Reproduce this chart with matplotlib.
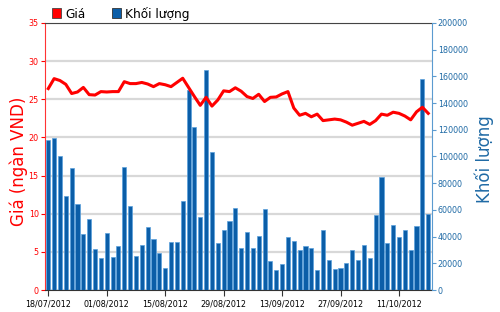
import numpy as np
import matplotlib
matplotlib.use('Agg')
import matplotlib.pyplot as plt
from matplotlib.patches import Patch

# gia dong cua (ngan VND), moi phien mot diem
price = [26.4, 27.7, 27.45, 26.95, 25.75, 25.95, 26.55, 25.6, 25.55, 26.0,
         25.95, 26.0, 26.0, 27.3, 27.05, 27.05, 27.2, 27.0, 26.65, 27.05,
         26.9, 26.65, 27.2, 27.75, 26.55, 25.35, 24.2, 25.25, 24.1, 24.9,
         26.1, 26.0, 26.5, 26.05, 25.35, 25.1, 25.65, 24.7, 25.25, 25.3,
         25.7, 26.0, 23.85, 22.9, 23.15, 22.7, 23.05, 22.2, 22.3, 22.4,
         22.3, 22.0, 21.6, 21.85, 22.1, 21.7, 22.2, 23.05, 22.9, 23.3,
         23.15, 22.8, 22.3, 23.35, 23.95, 23.15]

# khoi luong giao dich
volume = [112600, 113700, 100600, 70600, 91600, 64200, 41700, 53100, 30700, 24200,
          42700, 25000, 33200, 92300, 62600, 25700, 33700, 47400, 37900, 27400,
          16200, 36200, 36200, 66700, 149700, 121700, 54900, 164800, 103700, 35400,
          44900, 51400, 61100, 31400, 43400, 31300, 40300, 60300, 21700, 14700,
          19500, 39500, 36500, 30000, 33200, 31500, 14700, 45000, 22700, 15500,
          16200, 20000, 29700, 22500, 33700, 24000, 56200, 84700, 35200, 49000,
          39500, 45000, 30200, 48200, 158300, 57200]

tick_labels = ['18/07/2012', '01/08/2012', '15/08/2012', '29/08/2012',
               '13/09/2012', '27/09/2012', '11/10/2012']

RED = '#ff0000'
BLUE = '#0b5ea8'

x = np.arange(len(price))

fig = plt.figure(figsize=(5, 3.12), dpi=100)
ax = fig.add_axes([0.09, 0.0705, 0.773, 0.856])
ax2 = ax.twinx()   # khoi luong (truc phai)
ax3 = ax.twinx()   # duong gia ve tren cot

ax.set_xlim(-0.56, len(price) - 0.44)
ax.set_ylim(0, 35)
ax.set_yticks(range(0, 36, 5))
ax.yaxis.grid(True, color='#d8d8d8', linewidth=1.6)
ax.set_axisbelow(True)

ax2.bar(x, volume, width=0.7, color=BLUE, edgecolor='#5aa0dc', linewidth=0.5)
ax2.set_ylim(0, 200000)
ax2.set_yticks(range(0, 200001, 20000))

ax3.plot(x, price, color=RED, linewidth=2.2, solid_joinstyle='round')
ax3.set_ylim(0, 35)
ax3.axis('off')

ax.set_xticks(x[::10][:len(tick_labels)])
ax.set_xticklabels(tick_labels)
ax.tick_params(axis='x', labelsize=5.8, length=4, pad=3, color='#333333')
ax.tick_params(axis='y', labelsize=5.8, length=3, pad=1.5, colors=RED)
ax2.tick_params(axis='y', labelsize=5.8, length=3, pad=1.5,
                color='#5b9bd0', labelcolor='#1f6aa5')

for s in ['left', 'right', 'top', 'bottom']:
    ax2.spines[s].set_visible(s == 'right')
ax.spines['right'].set_visible(False)
ax.spines['left'].set_color('#ff3333')
ax.spines['top'].set_color('#444444')
ax.spines['bottom'].set_color('#333333')
ax2.spines['right'].set_color('#5b9bd0')

ax.set_ylabel('Giá (ngàn VND)', color=RED, fontsize=12)
ax.yaxis.set_label_coords(-0.045, 0.483)
ax2.set_ylabel('Khối lượng', color='#1f6aa5', fontsize=12)
ax2.yaxis.set_label_coords(1.11, 0.49)

handles = [Patch(facecolor=RED, edgecolor='#444444', linewidth=0.6),
           Patch(facecolor=BLUE, edgecolor='#333333', linewidth=0.6)]
ax.legend(handles, ['Giá', 'Khối lượng'], loc='center left',
          bbox_to_anchor=(0.018, 1.035), ncol=2, frameon=False, fontsize=8.7,
          handlelength=0.75, handleheight=0.9, handletextpad=0.35,
          columnspacing=2.2, borderpad=0, borderaxespad=0)

fig.savefig('out.png', dpi=100)
